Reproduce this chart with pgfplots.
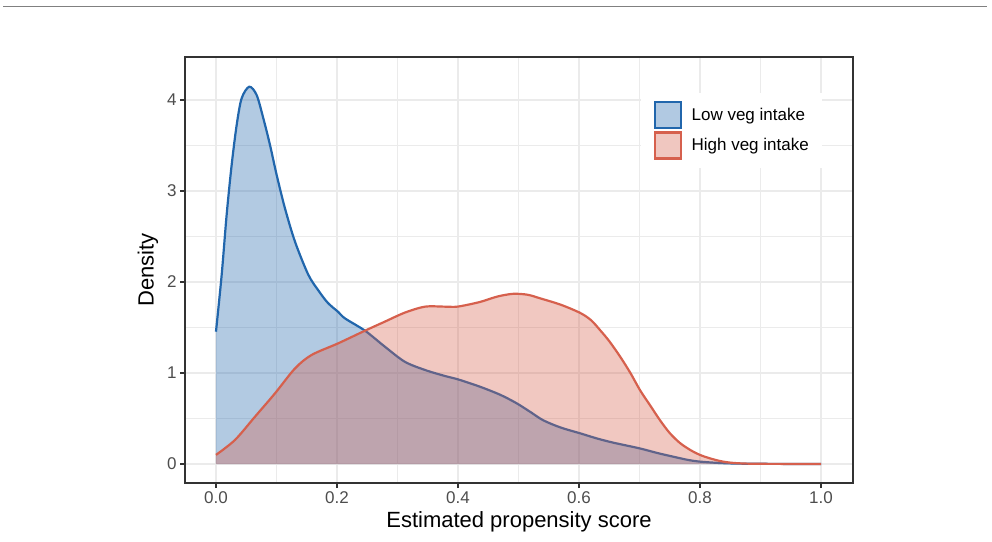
\documentclass[border=0pt]{standalone}
\usepackage{fontspec}
\setmainfont{Liberation Sans}
\usepackage{pgfplots}
\usepackage{pgfplotstable}
\pgfplotsset{compat=1.18}
\definecolor{lowc}{HTML}{2166AC}
\definecolor{highc}{HTML}{D6604D}
\definecolor{gridc}{HTML}{EBEBEB}
\definecolor{axc}{HTML}{333333}
\definecolor{tickl}{HTML}{4D4D4D}
\pgfplotstableread{
x y
0 1.454
0.0094 2.077
0.0176 2.736
0.0259 3.286
0.0342 3.725
0.0424 4.018
0.055 4.146
0.0672 4.055
0.0782 3.80
0.0893 3.505
0.1003 3.176
0.114 2.81
0.1306 2.443
0.1526 2.08
0.17 1.90
0.185 1.77
0.2022 1.67
0.2132 1.60
0.2463 1.465
0.279 1.29
0.312 1.124
0.3455 1.033
0.3785 0.967
0.40 0.93
0.436 0.85
0.47 0.76
0.497 0.667
0.52 0.57
0.541 0.48
0.57 0.40
0.602 0.337
0.63 0.28
0.657 0.234
0.70 0.172
0.73 0.12
0.756 0.08
0.78 0.045
0.8 0.026
0.83 0.012
0.86 0.005
0.9 0.002
1.0 0.0
}\lowtab
\pgfplotstableread{
x y
0 0.10
0.0314 0.264
0.0645 0.52
0.0975 0.776
0.1306 1.05
0.158 1.198
0.202 1.326
0.2463 1.465
0.279 1.564
0.312 1.663
0.3455 1.729
0.3785 1.729
0.40 1.73
0.436 1.78
0.465 1.84
0.491 1.87
0.515 1.86
0.536 1.82
0.57 1.75
0.602 1.66
0.62 1.58
0.635 1.47
0.65 1.35
0.668 1.18
0.685 1.0
0.701 0.81
0.718 0.64
0.734 0.48
0.75 0.34
0.767 0.23
0.785 0.15
0.8 0.10
0.815 0.065
0.833 0.033
0.85 0.015
0.87 0.006
0.9 0.002
1.0 0
}\hightab
\begin{document}
\begin{tikzpicture}
\path[use as bounding box] (0pt,0pt) rectangle (992pt,541pt);
\draw[line width=1.7pt, color=black!50] (3pt,534.5pt) -- (987pt,534.5pt);
\begin{axis}[
  at={(185pt,58pt)}, anchor=south west,
  width=668pt, height=426pt, scale only axis,
  xmin=-0.0512, xmax=1.0529, ymin=-0.2088, ymax=4.4725,
  xtick={0,0.2,0.4,0.6,0.8,1.0},
  ytick={0,1,2,3,4},
  minor xtick={0.1,0.3,0.5,0.7,0.9},
  minor ytick={0.5,1.5,2.5,3.5},
  xticklabel style={/pgf/number format/.cd, fixed, fixed zerofill, precision=1},
  /pgf/number format/assume math mode=true,
  grid=both,
  major grid style={gridc, line width=1.6pt},
  minor grid style={gridc, line width=0.8pt},
  axis line style={axc, line width=1.3pt},
  major tick style={axc, line width=1.1pt},
  minor tick length=0pt,
  major tick length=5pt,
  tick align=outside,
  xtick pos=bottom, ytick pos=left,
  ticklabel style={font=\fontsize{17}{17}\selectfont, text=tickl},
  xlabel={Estimated propensity score},
  ylabel={Density},
  label style={font=\fontsize{22}{22}\selectfont, text=black},
  xlabel style={at={(axis description cs:0.5,-0.0915)}, anchor=center},
  ylabel style={at={(axis description cs:-0.0554,0.5)}, anchor=center},
  legend cell align=left,
  legend style={at={(rel axis cs:0.9536,0.9155)}, anchor=north east,
    draw=none, fill=white, font=\fontsize{17}{17}\selectfont,
    inner xsep=13pt, inner ysep=8pt, row sep=2pt,
    nodes={inner sep=0pt}},
]
\addplot[draw=none, fill=lowc, fill opacity=0.35, smooth, tension=0.5,
  legend image code/.code={\draw[lowc, fill=lowc, fill opacity=0.35, line width=2.2pt] (0pt,-13pt) rectangle (26pt,13pt); \path (37pt,0pt);}]
  table {\lowtab} \closedcycle;
\addlegendentry{Low veg intake}
\addplot[lowc, line width=2.2pt, smooth, tension=0.5, forget plot] table {\lowtab};
\addplot[draw=none, fill=highc, fill opacity=0.35, smooth, tension=0.5,
  legend image code/.code={\draw[highc, fill=highc, fill opacity=0.35, line width=2.2pt] (0pt,-13pt) rectangle (26pt,13pt); \path (37pt,0pt);}]
  table {\hightab} \closedcycle;
\addlegendentry{High veg intake}
\addplot[highc, line width=2.2pt, smooth, tension=0.5, forget plot] table {\hightab};
\end{axis}
\end{tikzpicture}
\end{document}
